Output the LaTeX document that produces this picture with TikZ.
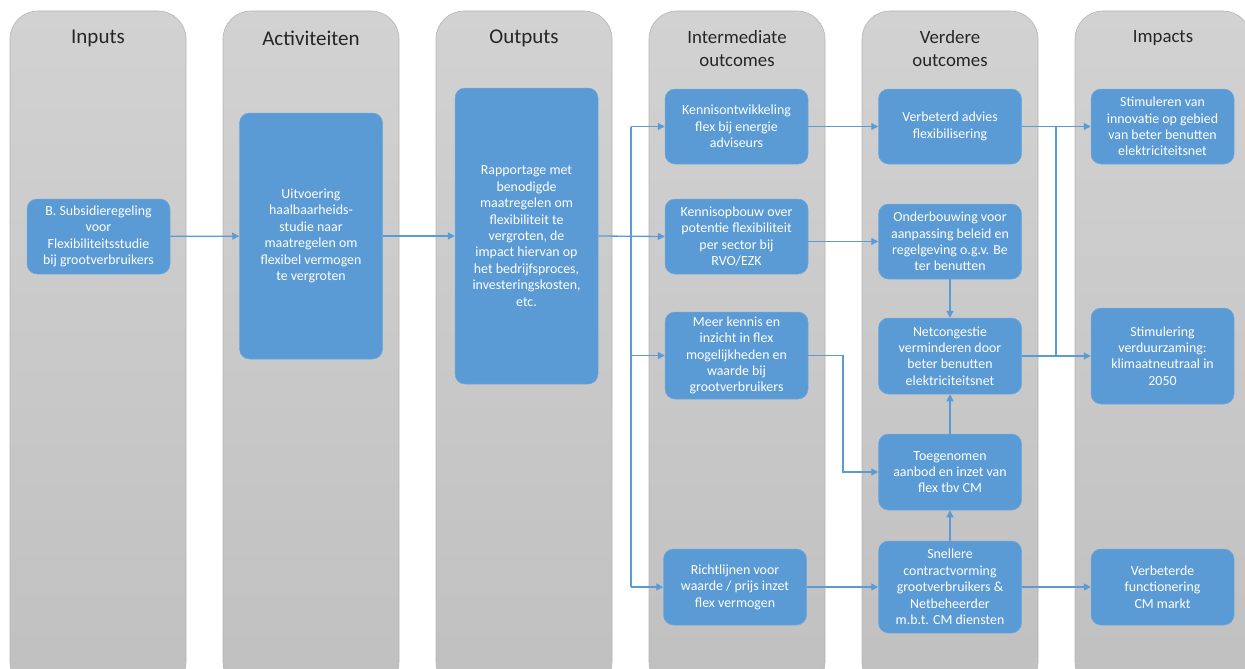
\documentclass[tikz,border=0pt]{standalone}
\usepackage{fontspec}
\setmainfont{Carlito}
\usetikzlibrary{arrows.meta,positioning}
\definecolor{boxblue}{HTML}{5B9BD5}
\definecolor{boxedge}{HTML}{6FA8DC}
\definecolor{coltop}{HTML}{D2D2D2}
\definecolor{colbot}{HTML}{C0C0C0}
\definecolor{coledge}{HTML}{B4B4B4}
\begin{document}
\begin{tikzpicture}[x=1pt,y=-1pt,
    col/.style={draw=coledge,line width=0.6pt,top color=coltop,bottom color=colbot,rounded corners=28pt},
    head/.style={font=\fontsize{21}{24}\selectfont,text=black!85,align=center},
    headsmall/.style={font=\fontsize{18.8}{23}\selectfont,text=black!85,align=center},
    box/.style={draw=boxedge,line width=0.5pt,fill=boxblue,text=white,rounded corners=10pt,
        align=center,inner sep=0pt,minimum width=143pt,font=\fontsize{13.9}{16.4}\selectfont},
    conn/.style={draw=boxblue,line width=1.3pt,-{Triangle[length=7pt,width=7pt]}},
    bare/.style={draw=boxblue,line width=1.3pt}]
    \useasboundingbox (0,0) rectangle (1245,669);
    \clip (0,0) rectangle (1245,669);

    \foreach \x in {10,223,436,649,862,1075}
        \draw[col] (\x,11) rectangle (\x+176,690);

    \node[head] (hin) at (98,38) {Inputs};
    \node[head] (hact) at (311,38) {Activiteiten};
    \node[head] (hout) at (524,38) {Outputs};
    \node[headsmall] (hio) at (737,49) {Intermediate\\outcomes};
    \node[headsmall] (hvo) at (950,49) {Verdere\\outcomes};
    \node[headsmall] (him) at (1163,38) {Impacts};

    \node[box,minimum height=75pt] (in1) at (98.5,236.5) {B. Subsidieregeling\\voor\\Flexibiliteitsstudie\\bij grootverbruikers};
    \node[box,minimum height=246pt] (act) at (311,236) {Uitvoering\\haalbaarheids-\\studie naar\\maatregelen om\\flexibel vermogen\\te vergroten};
    \node[box,minimum height=296pt] (out) at (526.5,236) {Rapportage met\\benodigde\\maatregelen om\\flexibiliteit te\\vergroten, de\\impact hiervan op\\het bedrijfsproces,\\investeringskosten,\\etc.};

    \node[box,minimum height=75pt] (io1) at (736.5,126.5) {Kennisontwikkeling\\flex bij energie\\adviseurs};
    \node[box,minimum height=75pt] (io2) at (736.5,236.5) {Kennisopbouw over\\potentie flexibiliteit\\per sector bij\\RVO/EZK};
    \node[box,minimum height=87pt] (io3) at (736.5,355.5) {Meer kennis en\\inzicht in flex\\mogelijkheden en\\waarde bij\\grootverbruikers};
    \node[box,minimum height=76pt] (io4) at (735,587) {Richtlijnen voor\\waarde / prijs inzet\\flex vermogen};

    \node[box,minimum height=75pt] (vo1) at (950,126.5) {Verbeterd advies\\flexibilisering};
    \node[box,minimum height=75pt] (vo2) at (950,241.5) {Onderbouwing voor\\aanpassing beleid en\\regelgeving o.g.v. Be\\ter benutten};
    \node[box,minimum height=76pt] (vo3) at (950,356) {Netcongestie\\verminderen door\\beter benutten\\elektriciteitsnet};
    \node[box,minimum height=76pt] (vo4) at (950,472) {Toegenomen\\aanbod en inzet van\\flex tbv CM};
    \node[box,minimum height=92pt] (vo5) at (950,587) {Snellere\\contractvorming\\grootverbruikers \&\\Netbeheerder\\m.b.t. CM diensten};

    \node[box,minimum height=75pt] (im1) at (1162.5,126.5) {Stimuleren van\\innovatie op gebied\\van beter benutten\\elektriciteitsnet};
    \node[box,minimum height=96pt] (im2) at (1162.5,356) {Stimulering\\verduurzaming:\\klimaatneutraal in\\2050};
    \node[box,minimum height=76pt] (im3) at (1162.5,587) {Verbeterde\\functionering\\CM markt};

    \coordinate (bus) at (631,0);
    \coordinate (kink) at (843,0);
    \coordinate (bus2) at (1056,0);

    \draw[conn] (in1) -- (act);
    \draw[conn] (act) -- (out);
    \draw[conn] (out.east) -- (io2.west);
    \draw[bare] (io1.west -| bus) -- (io4.west -| bus);
    \draw[conn] (io1.west -| bus) -- (io1.west);
    \draw[conn] (io3.west -| bus) -- (io3.west);
    \draw[conn] (io4.west -| bus) -- (io4.west);

    \draw[conn] (io1) -- (vo1);
    \draw[conn] (vo2.west -| io2.east) -- (vo2.west);
    \draw[conn] (io3.east) -- (io3.east -| kink) |- (vo4.west);
    \draw[conn] (io4) -- (vo5);

    \draw[conn] (vo2) -- (vo3);
    \draw[conn] (vo4) -- (vo3);
    \draw[conn] (vo5) -- (vo4);

    \draw[conn] (vo1) -- (im1);
    \draw[conn] (vo3) -- (im2);
    \draw[bare] (vo1.east -| bus2) -- (vo3.east -| bus2);
    \draw[conn] (vo5) -- (im3);
\end{tikzpicture}
\end{document}
